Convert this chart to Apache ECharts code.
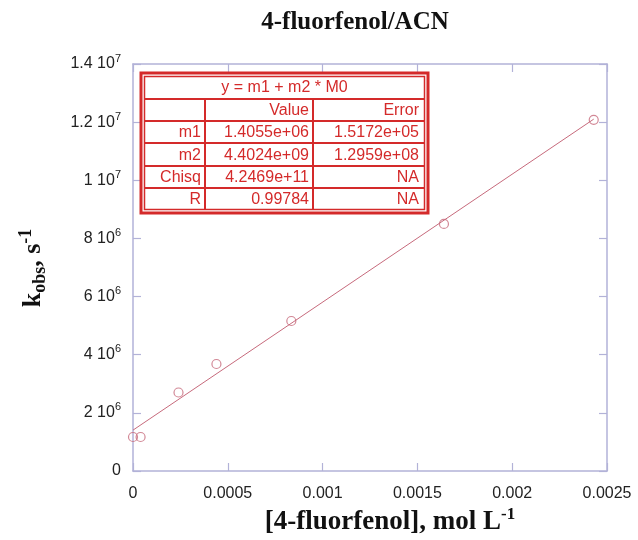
<!DOCTYPE html>
<html>
<head>
<meta charset="utf-8">
<script src="https://cdn.jsdelivr.net/npm/echarts@6/dist/echarts.min.js"></script>
<style>
html,body{margin:0;padding:0;background:#fff;}
#chart{width:638px;height:540px;}
</style>
</head>
<body>
<div id="chart"></div>
<script>
// ---- data ----
const concX = [0, 0.00004, 0.00024, 0.00044, 0.000835, 0.00164, 0.00243];
const kobsY = [1.17e6, 1.17e6, 2.7e6, 3.68e6, 5.16e6, 8.5e6, 1.208e7];
const fitM1 = 1.4055e6;
const fitM2 = 4.4024e9;
const fitRange = [0, 0.00243];
const xTickLabels = ['0', '0.0005', '0.001', '0.0015', '0.002', '0.0025'];
const yTickMant = ['0', '2 10', '4 10', '6 10', '8 10', '1 10', '1.2 10', '1.4 10'];
const yTickExp = ['', '6', '6', '6', '6', '7', '7', '7'];
const tableTitle = 'y = m1 + m2 * M0';
const tableHead = ['', 'Value', 'Error'];
const tableRows = [
  ['m1', '1.4055e+06', '1.5172e+05'],
  ['m2', '4.4024e+09', '1.2959e+08'],
  ['Chisq', '4.2469e+11', 'NA'],
  ['R', '0.99784', 'NA']
];

// ---- build ----
const scatterData = concX.map((x, i) => [x, kobsY[i]]);
const fitData = fitRange.map(x => [x, fitM1 + fitM2 * x]);

const frameColor = '#b2b2d8';
const red = '#d42a2a';
const markColor = '#c76a7c';
const sans = 'Liberation Sans, Arial, Helvetica, sans-serif';
const serif = 'Liberation Serif, Times New Roman, serif';

// table graphic
const tL = 141, tR = 428, tT = 73, tB = 213;
const rowLines = [99, 121, 143, 166, 188];
const colLines = [205, 313];
const colRight = [201, 309, 419];
const g = [];
g.push({type: 'rect', shape: {x: tL, y: tT, width: tR - tL, height: tB - tT},
  style: {fill: '#fff', stroke: red, lineWidth: 3}, z: 100});
g.push({type: 'rect', shape: {x: tL + 3.5, y: tT + 3.5, width: tR - tL - 7, height: tB - tT - 7},
  style: {fill: 'none', stroke: red, lineWidth: 1.5}, z: 101});
rowLines.forEach(y => g.push({type: 'line', shape: {x1: tL + 3, y1: y, x2: tR - 3, y2: y},
  style: {stroke: red, lineWidth: 2}, z: 101}));
colLines.forEach(x => g.push({type: 'line', shape: {x1: x, y1: rowLines[0], x2: x, y2: tB - 3},
  style: {stroke: red, lineWidth: 2}, z: 101}));
const txtStyle = {fontFamily: sans, fontSize: 16, fill: red};
g.push({type: 'text', x: (tL + tR) / 2, y: (tT + rowLines[0]) / 2 + 1.5, z: 102,
  style: Object.assign({text: tableTitle, textAlign: 'center', textVerticalAlign: 'middle'}, txtStyle)});
const allRows = [tableHead].concat(tableRows);
const rowTops = rowLines;
const rowBottoms = rowLines.slice(1).concat([tB - 3]);
allRows.forEach((row, r) => {
  row.forEach((cell, c) => {
    if (!cell) return;
    g.push({type: 'text', x: colRight[c], y: (rowTops[r] + rowBottoms[r]) / 2 + 1, z: 102,
      style: Object.assign({text: cell, textAlign: 'right', textVerticalAlign: 'middle'}, txtStyle)});
  });
});
// title
g.push({type: 'text', x: 355, y: 23, z: 50,
  style: {text: '4-fluorfenol/ACN', textAlign: 'center', textVerticalAlign: 'middle',
    fontFamily: serif, fontWeight: 'bold', fontSize: 25, fill: '#111'}});
// y axis label
g.push({type: 'text', x: 33, y: 268, rotation: Math.PI / 2, z: 50,
  style: {text: '{k|k}{sub|obs}{k|, s}{sup|-1}', textAlign: 'center', textVerticalAlign: 'middle',
    rich: {
      k: {fontFamily: serif, fontWeight: 'bold', fontSize: 26, lineHeight: 32, fill: '#111'},
      sub: {fontFamily: serif, fontWeight: 'bold', fontSize: 18, lineHeight: 16, verticalAlign: 'bottom', fill: '#111'},
      sup: {fontFamily: serif, fontWeight: 'bold', fontSize: 18, lineHeight: 16, verticalAlign: 'top', fill: '#111'}
    }}});
// x axis label
g.push({type: 'text', x: 390, y: 522, z: 50,
  style: {text: '{k|[4-fluorfenol], mol L}{sup|-1}', textAlign: 'center', textVerticalAlign: 'middle',
    rich: {
      k: {fontFamily: serif, fontWeight: 'bold', fontSize: 27, lineHeight: 32, fill: '#111'},
      sup: {fontFamily: serif, fontWeight: 'bold', fontSize: 17, lineHeight: 15, verticalAlign: 'top', fill: '#111'}
    }}});

const axisCommon = {
  type: 'value',
  axisLine: {show: true, onZero: false, lineStyle: {color: frameColor, width: 1.5}},
  axisTick: {show: true, inside: true, length: 8, lineStyle: {color: frameColor, width: 1.2}},
  splitLine: {show: false}
};

const option = {
  animation: false,
  backgroundColor: '#fff',
  grid: {left: 133, right: 31, top: 64, bottom: 69, containLabel: false},
  xAxis: [
    Object.assign({}, axisCommon, {
      position: 'bottom', min: 0, max: 0.0025, interval: 0.0005,
      axisLabel: {margin: 15, color: '#222', fontSize: 16, fontFamily: sans,
        formatter: v => xTickLabels[Math.round(v / 0.0005)]}
    }),
    Object.assign({}, axisCommon, {
      position: 'top', min: 0, max: 0.0025, interval: 0.0005, axisLabel: {show: false}
    })
  ],
  yAxis: [
    Object.assign({}, axisCommon, {
      position: 'left', min: 0, max: 1.4e7, interval: 2e6,
      axisLabel: {margin: 12, color: '#222', fontFamily: sans,
        formatter: v => {
          const i = Math.round(v / 2e6);
          return yTickExp[i] ? '{m|' + yTickMant[i] + '}{e|' + yTickExp[i] + '}' : '{m|' + yTickMant[i] + '}';
        },
        rich: {
          m: {fontSize: 16, lineHeight: 22, color: '#222', fontFamily: sans},
          e: {fontSize: 11, lineHeight: 11, verticalAlign: 'top', color: '#222', fontFamily: sans}
        }}
    }),
    Object.assign({}, axisCommon, {
      position: 'right', min: 0, max: 1.4e7, interval: 2e6, axisLabel: {show: false}
    })
  ],
  series: [
    {type: 'line', data: fitData, showSymbol: false, symbol: 'none',
      lineStyle: {color: markColor, width: 1}, z: 2},
    {type: 'scatter', data: scatterData, symbol: 'circle', symbolSize: 9,
      itemStyle: {color: 'rgba(255,255,255,0)', borderColor: markColor, borderWidth: 1.2}, z: 3}
  ],
  graphic: g
};

const chart = echarts.init(document.getElementById('chart'), null, {renderer: 'canvas'});
chart.setOption(option);
</script>
</body>
</html>
